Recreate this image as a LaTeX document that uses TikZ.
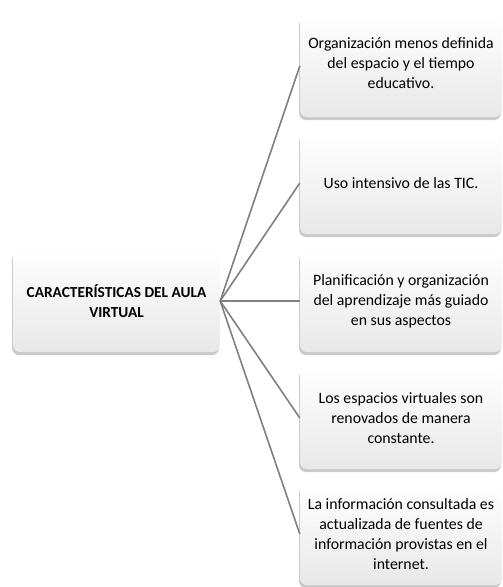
\documentclass[tikz,border=0pt]{standalone}
\usepackage{fontspec}
\setmainfont{Carlito}
\usetikzlibrary{shadows}
\begin{document}
\begin{tikzpicture}[x=1pt,y=1pt,
  cbox/.style={rounded corners=7pt, top color=white, bottom color=black!9,
    drop shadow={shadow xshift=-1pt, shadow yshift=-3pt, opacity=0.35, fill=black!60},
    align=center, inner sep=2pt, font=\fontsize{15.8}{20}\selectfont},
  link/.style={draw=black!50, line width=1.6pt}]
\useasboundingbox (0,0) rectangle (503,-587);
\node[cbox, minimum width=207, minimum height=102, font=\bfseries\fontsize{15.3}{19.5}\selectfont] (c) at (116.5,-301) {CARACTERÍSTICAS DEL AULA\\VIRTUAL};
\node[cbox, minimum width=202, minimum height=102, text depth=6pt] (b1) at (401,-66) {Organización menos definida\\del espacio y el tiempo\\educativo.};
\node[cbox, minimum width=202, minimum height=102] (b2) at (401,-183) {Uso intensivo de las TIC.};
\node[cbox, minimum width=202, minimum height=102] (b3) at (401,-301) {Planificación y organización\\del aprendizaje más guiado\\en sus aspectos};
\node[cbox, minimum width=202, minimum height=102] (b4) at (401,-418) {Los espacios virtuales son\\renovados de manera\\constante.};
\node[cbox, minimum width=202, minimum height=102] (b5) at (401,-534) {La información consultada es\\actualizada de fuentes de\\información provistas en el\\internet.};
\foreach \b in {b1,b2,b3,b4,b5} \draw[link] (c.east) -- (\b.west);
\end{tikzpicture}
\end{document}
